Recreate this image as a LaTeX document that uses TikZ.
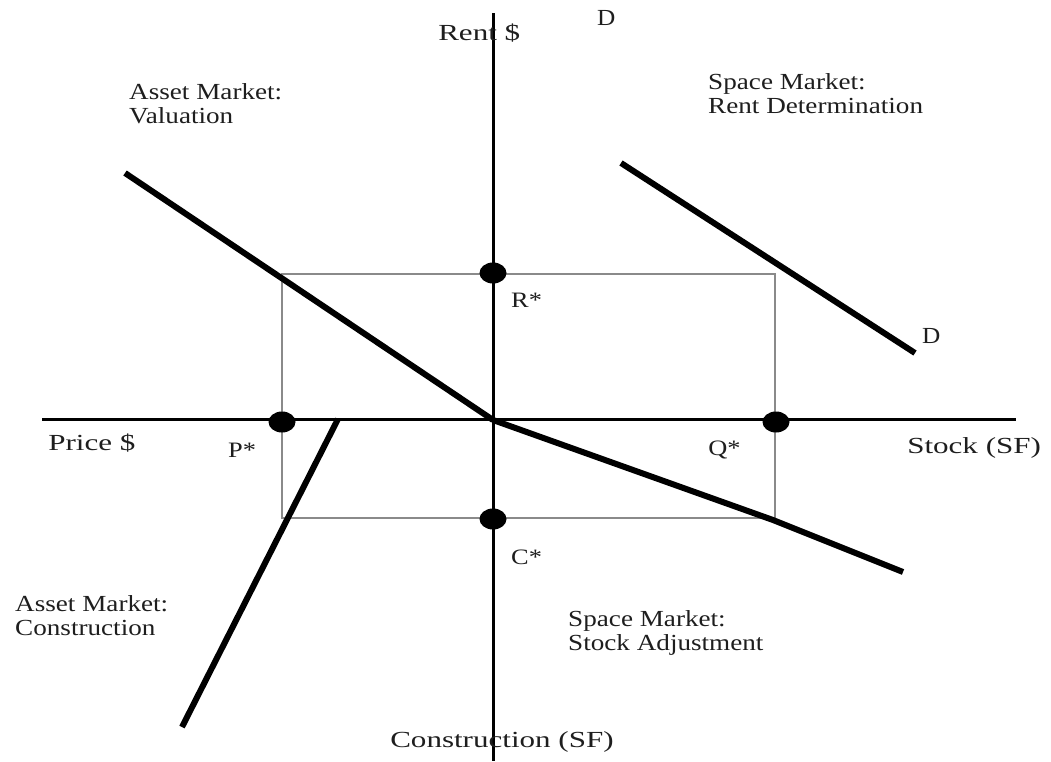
\documentclass[tikz,border=0pt]{standalone}
\usepackage{fontspec}
\setmainfont{Liberation Serif}
\usetikzlibrary{shapes.geometric}
\definecolor{txt}{HTML}{1E1E1E}
\definecolor{boxgray}{HTML}{8A8A8A}
\tikzset{
  axisline/.style={line width=3pt, black},
  curveline/.style={line width=6pt, black, line cap=butt, line join=round},
  eqbox/.style={line width=1.6pt, boxgray},
  eqdot/.style={ellipse, fill=black, minimum width=27pt, minimum height=21pt, inner sep=0pt},
  axislabel/.style={font=\fontsize{23}{24}\selectfont, text=txt, xscale=1.35, inner sep=0pt, anchor=base west},
  quadlabel/.style={font=\fontsize{23}{23.5}\selectfont, text=txt, xscale=1.18, inner sep=0pt, anchor=base west, align=left},
  starlabel/.style={font=\fontsize{22}{24}\selectfont, text=txt, xscale=1.2, inner sep=0pt, anchor=base west},
  dlabel/.style={font=\fontsize{23}{24}\selectfont, text=txt, xscale=1.1, inner sep=0pt, anchor=base west},
}
\begin{document}
\begin{tikzpicture}[x=1pt,y=-1pt]
\useasboundingbox (0,0) rectangle (1051,761);
\fill[white] (0,0) rectangle (1051,761);

% coordinates
\coordinate (O) at (493,419);
\coordinate (vtop) at (493,13);
\coordinate (vbot) at (493,761);
\coordinate (hleft) at (42,419);
\coordinate (hright) at (1016,419);
\coordinate (boxNW) at (282,274);
\coordinate (boxSE) at (775,518);

% equilibrium box
\draw[eqbox] (boxNW) rectangle (boxSE);

% axes
\draw[axisline] (vtop) -- (vbot);
\draw[axisline] (hleft) -- (hright);

% curves
\coordinate (valA) at (125,173);
\coordinate (valB) at (493,420);
\draw[curveline] (valA) -- (valB);

\coordinate (stkA) at (493,420);
\coordinate (stkM) at (773,520);
\coordinate (stkB) at (903,572);
\draw[curveline] (stkA) -- (stkM) -- (stkB);

\coordinate (conA) at (338,419);
\coordinate (conB) at (182,727);
\draw[curveline] (conA) -- (conB);

\coordinate (demA) at (621,163);
\coordinate (demB) at (915,353);
\draw[curveline] (demA) -- (demB);

% equilibrium dots
\node[eqdot] (Rdot) at (493,273) {};
\node[eqdot] (Pdot) at (282,422) {};
\node[eqdot] (Qdot) at (776,422) {};
\node[eqdot] (Cdot) at (493,519) {};

% axis labels
\node[axislabel] (rent) at (438,40) {Rent \$};
\node[axislabel] (price) at (48,450) {Price \$};
\node[axislabel] (stock) at (907,453) {Stock (SF)};
\node[axislabel] (constr) at (390,747) {Construction (SF)};

% star labels
\node[starlabel] (Rstar) at (511,307) {R*};
\node[starlabel] (Pstar) at (228,457) {P*};
\node[starlabel] (Qstar) at (708,455) {Q*};
\node[starlabel] (Cstar) at (511,564) {C*};

% demand labels
\node[dlabel] (Dtop) at (597,25) {D};
\node[dlabel] (Dbot) at (922,343) {D};

% quadrant labels (anchor = baseline of last line)
\node[quadlabel] (qval) at (129,123) {Asset Market:\\Valuation};
\node[quadlabel] (qrent) at (708,113) {Space Market:\\Rent Determination};
\node[quadlabel] (qcon) at (15,635) {Asset Market:\\Construction};
\node[quadlabel] (qstk) at (568,650) {Space Market:\\Stock Adjustment};
\end{tikzpicture}
\end{document}
